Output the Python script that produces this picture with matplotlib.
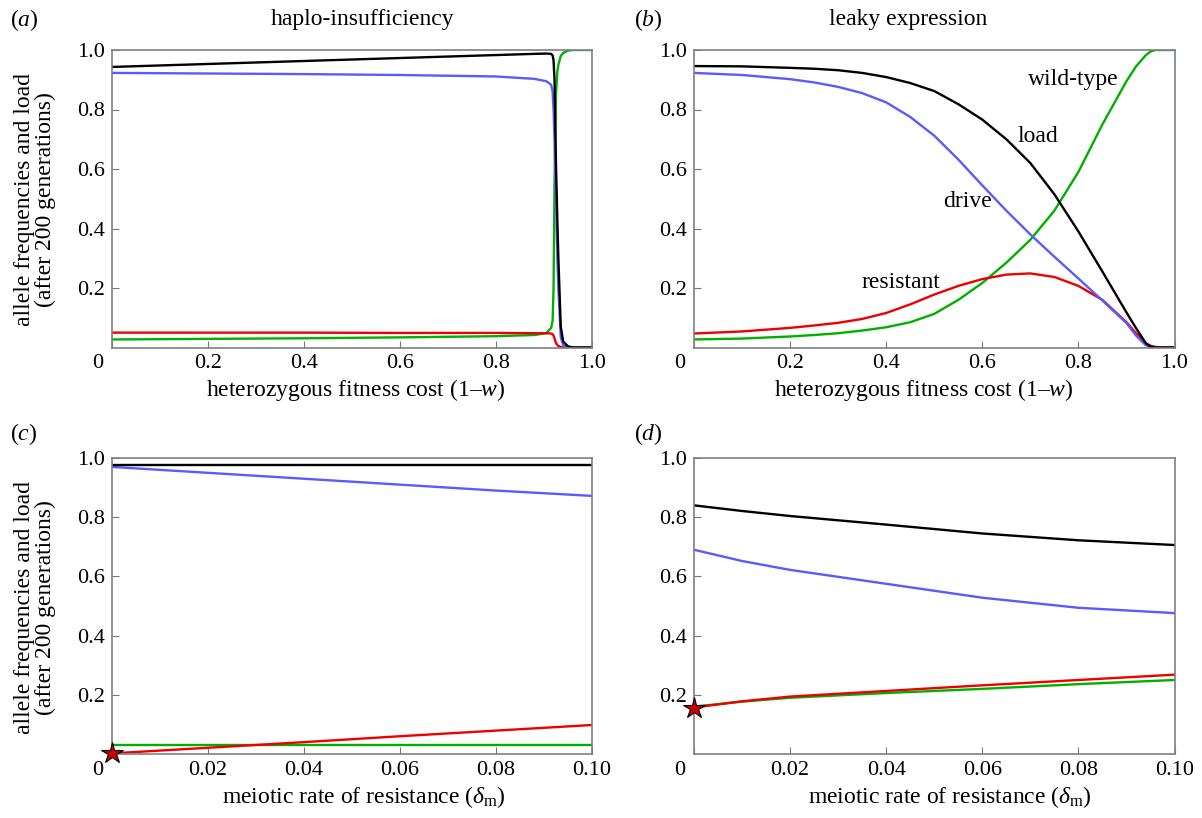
import numpy as np
import matplotlib
matplotlib.use('Agg')
import matplotlib.pyplot as plt
import matplotlib.transforms as mtransforms

plt.rcParams['font.family'] = ['Liberation Serif', 'DejaVu Serif']
plt.rcParams['mathtext.fontset'] = 'custom'
plt.rcParams['mathtext.rm'] = 'Liberation Serif'
plt.rcParams['mathtext.it'] = 'Liberation Serif:italic'

# (a) haplo-insufficiency
xa = [0, 0.2, 0.4, 0.6, 0.8, 0.88, 0.905, 0.915, 0.918, 0.92, 0.922, 0.925,
      0.928, 0.93, 0.935, 0.94, 0.95, 0.96, 1.0]
load_a = [0.943, 0.953, 0.963, 0.973, 0.983, 0.987, 0.988, 0.987, 0.982, 0.965,
          0.9, 0.62, 0.42, 0.3, 0.07, 0.02, 0.004, 0.0, 0.0]
drive_a = [0.923, 0.921, 0.919, 0.916, 0.911, 0.903, 0.895, 0.883, 0.86, 0.8,
           0.7, 0.5, 0.3, 0.2, 0.035, 0.008, 0.001, 0.0, 0.0]
wild_a = [0.027, 0.029, 0.031, 0.034, 0.038, 0.042, 0.048, 0.066, 0.09, 0.2,
          0.55, 0.85, 0.93, 0.95, 0.98, 0.99, 0.998, 1.0, 1.0]
resist_a = [0.05, 0.05, 0.05, 0.049, 0.049, 0.048, 0.048, 0.047, 0.045, 0.04,
            0.03, 0.015, 0.008, 0.005, 0.002, 0.0, 0.0, 0.0, 0.0]

# (b) leaky expression
xb = [0, 0.1, 0.2, 0.25, 0.3, 0.35, 0.4, 0.45, 0.5, 0.55, 0.6, 0.65, 0.7, 0.75,
      0.8, 0.85, 0.9, 0.92, 0.94, 0.95, 0.96, 0.98, 1.0]
load_b = [0.946, 0.945, 0.94, 0.937, 0.932, 0.923, 0.909, 0.889, 0.862, 0.818, 0.766,
          0.70, 0.62, 0.515, 0.39, 0.255, 0.118, 0.065, 0.015, 0.003, 0.0, 0.0, 0.0]
drive_b = [0.923, 0.916, 0.902, 0.891, 0.876, 0.855, 0.824, 0.775, 0.712, 0.632, 0.545,
           0.46, 0.38, 0.305, 0.232, 0.158, 0.082, 0.04, 0.008, 0.002, 0.0, 0.0, 0.0]
wild_b = [0.027, 0.03, 0.037, 0.042, 0.048, 0.057, 0.068, 0.085, 0.113, 0.16, 0.217,
          0.285, 0.362, 0.46, 0.59, 0.75, 0.895, 0.945, 0.982, 0.995, 1.0, 1.0, 1.0]
resist_b = [0.047, 0.054, 0.066, 0.074, 0.083, 0.096, 0.116, 0.145, 0.178, 0.207, 0.23,
            0.245, 0.249, 0.237, 0.207, 0.16, 0.085, 0.048, 0.014, 0.006, 0.002, 0.0, 0.0]

# (c), (d) meiotic rate of resistance
xc = [0, 0.02, 0.04, 0.06, 0.08, 0.1]
load_c = [0.976, 0.976, 0.976, 0.976, 0.976, 0.976]
drive_c = [0.97, 0.95, 0.93, 0.91, 0.89, 0.872]
wild_c = [0.03, 0.03, 0.03, 0.03, 0.03, 0.03]
resist_c = [0.002, 0.021, 0.04, 0.06, 0.079, 0.098]

xd = [0, 0.01, 0.02, 0.04, 0.06, 0.08, 0.1]
load_d = [0.84, 0.821, 0.804, 0.775, 0.745, 0.722, 0.706]
drive_d = [0.69, 0.652, 0.622, 0.575, 0.528, 0.494, 0.476]
resist_d = [0.157, 0.178, 0.194, 0.213, 0.232, 0.25, 0.268]
wild_d = [0.16, 0.177, 0.19, 0.206, 0.22, 0.236, 0.25]

ticks_ab = [0, 0.2, 0.4, 0.6, 0.8, 1.0]
ticks_cd = [0, 0.02, 0.04, 0.06, 0.08, 0.10]
yticks = [0.2, 0.4, 0.6, 0.8, 1.0]

BLACK = '#000000'
BLUE = '#5a5aff'
GREEN = '#00b000'
RED = '#ee0000'
FS_TICK = 16
FS = 17

fig = plt.figure(figsize=(12.02, 8.18), dpi=100)
W, H = 1202.0, 818.0

def make_axes(left, right, top, bottom):
    return fig.add_axes([left / W, 1 - bottom / H, (right - left) / W, (bottom - top) / H])

ax_a = make_axes(111.5, 592, 50, 347.5)
ax_b = make_axes(694, 1174.5, 50, 347.5)
ax_c = make_axes(111.5, 592, 458, 754)
ax_d = make_axes(694, 1174.5, 458, 754)

panels = [
    (ax_a, xa, load_a, drive_a, wild_a, resist_a, ticks_ab, ['0', '0.2', '0.4', '0.6', '0.8', '1.0']),
    (ax_b, xb, load_b, drive_b, wild_b, resist_b, ticks_ab, ['0', '0.2', '0.4', '0.6', '0.8', '1.0']),
    (ax_c, xc, load_c, drive_c, wild_c, resist_c, ticks_cd, ['0', '0.02', '0.04', '0.06', '0.08', '0.10']),
    (ax_d, xd, load_d, drive_d, wild_d, resist_d, ticks_cd, ['0', '0.02', '0.04', '0.06', '0.08', '0.10']),
]

shift = mtransforms.ScaledTranslation(-14 / 100.0, 0, fig.dpi_scale_trans)

for ax, x, load, drive, wild, resist, xt, xtl in panels:
    ax.plot(x, wild, color=GREEN, lw=1.7)
    ax.plot(x, resist, color=RED, lw=1.7)
    ax.plot(x, drive, color=BLUE, lw=1.7)
    ax.plot(x, load, color=BLACK, lw=1.7)
    ax.set_xlim(xt[0], xt[-1])
    ax.set_ylim(0, 1)
    ax.set_xticks(xt)
    ax.set_xticklabels(xtl)
    ax.set_yticks(yticks)
    ax.set_yticklabels(['0.2', '0.4', '0.6', '0.8', '1.0'])
    ax.tick_params(direction='in', length=5, width=0.8, color='#777777',
                   labelsize=FS_TICK, pad=5)
    for s in ax.spines.values():
        s.set_color('#808080')
        s.set_linewidth(1.2)
    first = ax.get_xticklabels()[0]
    first.set_transform(first.get_transform() + shift)

# starting points of the resistance curves
for ax, x, resist in [(ax_c, xc, resist_c), (ax_d, xd, resist_d)]:
    ax.plot(x[0], resist[0], marker='*', markersize=16, color='#cc0000',
            markeredgecolor='black', markeredgewidth=0.8, clip_on=False, zorder=5)

# curve labels in (b)
ax_b.text(0.79, 0.9, 'wild-type', fontsize=FS, ha='center', va='center')
ax_b.text(0.715, 0.71, 'load', fontsize=FS, ha='center', va='center')
ax_b.text(0.57, 0.49, 'drive', fontsize=FS, ha='center', va='center')
ax_b.text(0.43, 0.22, 'resistant', fontsize=FS, ha='center', va='center')

def ftext(px, py, s, size=FS, **kw):
    fig.text(px / W, 1 - py / H, s, fontsize=size, ha='center', va='center', **kw)

ftext(24, 20, '($a$)')
ftext(648, 20, '($b$)')
ftext(24, 434, '($c$)')
ftext(648, 434, '($d$)')
ftext(363, 20, 'haplo-insufficiency')
ftext(908, 20, 'leaky expression')
ftext(356, 390, 'heterozygous fitness cost (1–$w$)')
ftext(924, 390, 'heterozygous fitness cost (1–$w$)')
ftext(364, 797, r'meiotic rate of resistance ($\delta_{\mathrm{m}}$)')
ftext(950, 797, r'meiotic rate of resistance ($\delta_{\mathrm{m}}$)')
ftext(35, 200, 'allele frequencies and load\n(after 200 generations)', rotation=90,
      multialignment='center', linespacing=1.0)
ftext(35, 608, 'allele frequencies and load\n(after 200 generations)', rotation=90,
      multialignment='center', linespacing=1.0)

fig.savefig('out.png', dpi=100)
